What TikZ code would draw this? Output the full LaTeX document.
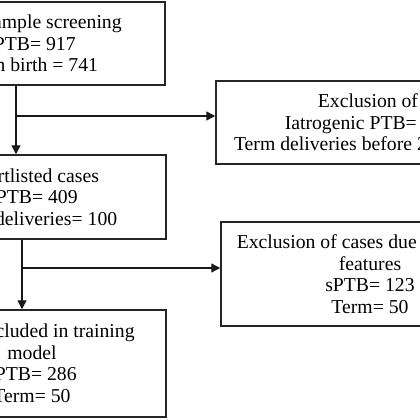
\documentclass[tikz,border=0pt]{standalone}
\usepackage{fontspec}
\setmainfont{Liberation Serif}
\usepackage{tikz}
\usetikzlibrary{arrows.meta}
\tikzset{
    flowbox/.style  = {draw=black!85, line width=1.5pt, align=center, inner sep=0pt,
                       font=\fontsize{19.7}{21.5}\selectfont},
    link/.style     = {-{Triangle[length=9pt, width=9pt]}, line width=1.4pt, draw=black!90}
}
\begin{document}
\begin{tikzpicture}[x=1pt, y=-1pt]
    \useasboundingbox (0,0) rectangle (420,420);
    \clip (0,0) rectangle (420,420);

    \node[flowbox, minimum width=268pt, minimum height=83pt] (sample) at (31,43.5)
        {Total sample screening\\sPTB= 917\\Term birth = 741};
    \node[flowbox, minimum width=266pt, minimum height=84pt] (short) at (33,197)
        {Shortlisted cases\\sPTB= 409\\Term deliveries= 100};
    \node[flowbox, minimum width=268pt, minimum height=107pt] (train) at (32,363.5)
        {Cases included in training\\model\\sPTB= 286\\Term= 50};
    \node[flowbox, minimum width=304pt, minimum height=83pt] (iatro) at (368,122.5)
        {Exclusion of\\Iatrogenic PTB= 508\\Term deliveries before 2019= 641};
    \node[flowbox, minimum width=298pt, minimum height=104pt] (missing) at (370,274)
        {Exclusion of cases due to missing\\features\\sPTB= 123\\Term= 50};

    % branching points on the down lines
    \coordinate (j1) at (16,116);
    \coordinate (j2) at (22,268);

    \draw[link] ([xshift=-15pt]sample.south) -- ([xshift=-17pt]short.north);
    \draw[link] (j1) -- (j1 -| iatro.west);
    \draw[link] ([xshift=-11pt]short.south) -- ([xshift=-10pt]train.north);
    \draw[link] (j2) -- (j2 -| missing.west);
\end{tikzpicture}
\end{document}
